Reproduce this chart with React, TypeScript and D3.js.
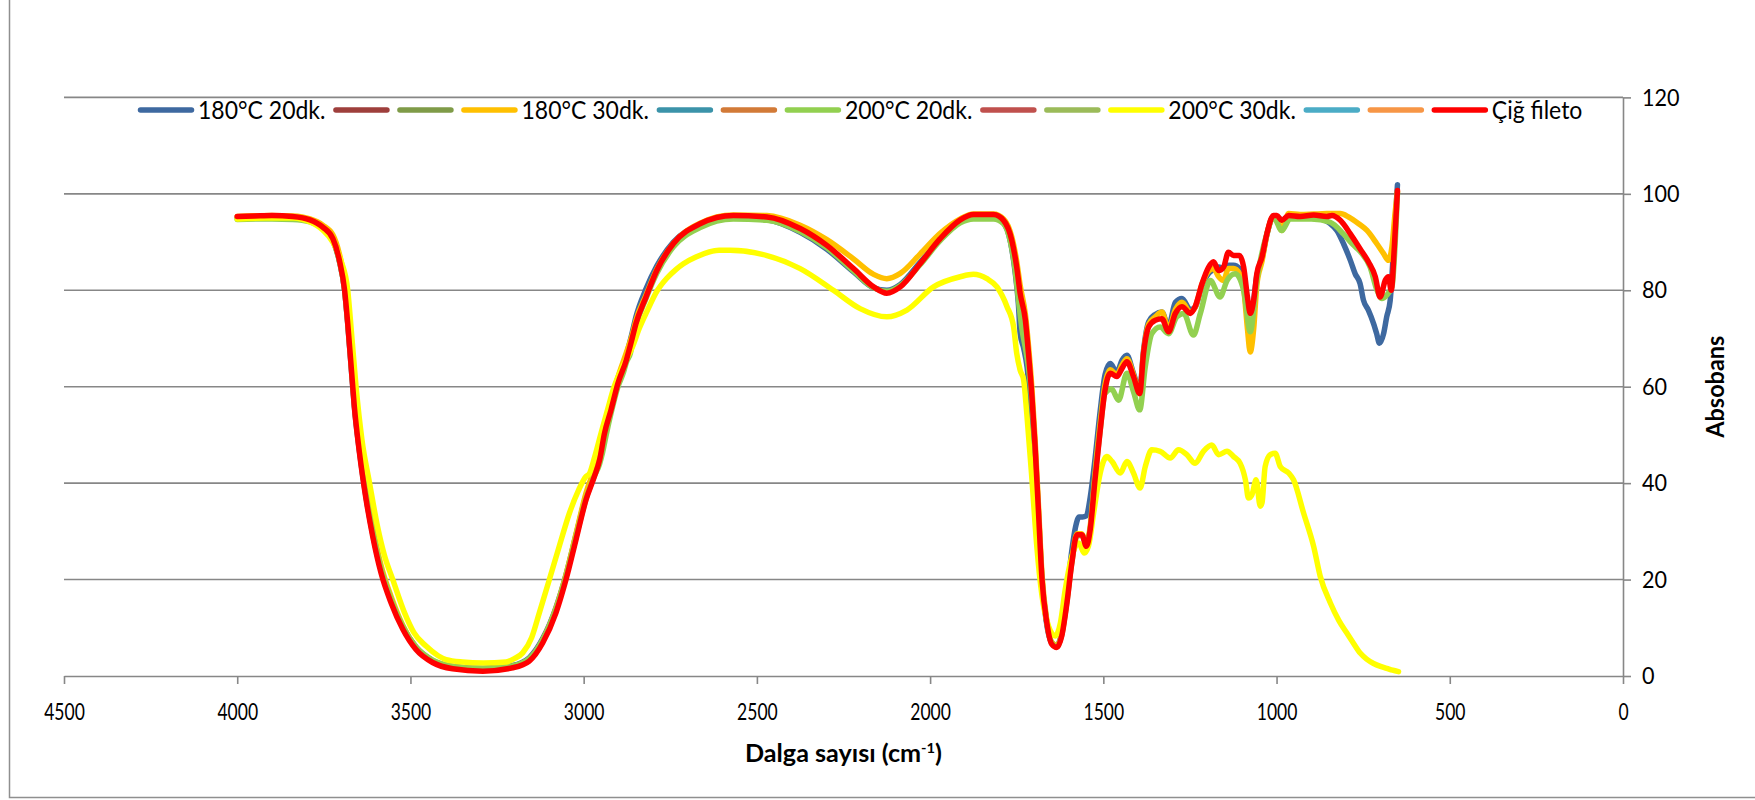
import React, { useEffect, useRef } from "react";
import * as d3 from "d3";

type Pt = [number, number];

// legend entries, in Excel series order (several series have no name)
const seriesNames = ["180°C 20dk.", "", "", "180°C 30dk.", "", "", "200°C 20dk.", "", "", "200°C 30dk.", "", "", "Çiğ fileto"];
const seriesColors = ["#3e69a0", "#9e3f3c", "#7f9b48", "#ffc000", "#3b93a9", "#d27a37", "#92d050", "#c0504d", "#9bbb59", "#ffff00", "#4bacc6", "#f79646", "#ff0000"];

const xTicks = [4500, 4000, 3500, 3000, 2500, 2000, 1500, 1000, 500, 0];
const yTicks = [0, 20, 40, 60, 80, 100, 120];

// [wavenumber, value]
const s180_20: Pt[] = [
  [4000, 95.0], [3900, 95.2], [3840, 95.0], [3790, 94.4], [3753, 93], [3724, 90.5], [3705, 86], [3690, 80], [3681, 73],
  [3671, 64], [3662, 56], [3647, 46.5], [3628, 37], [3609, 29.5], [3585, 22], [3556, 15.8], [3522, 10.2], [3484, 6],
  [3436, 3.2], [3378, 2], [3291, 1.6], [3205, 2.2], [3157, 3.8], [3118, 7.8], [3080, 14.2], [3051, 21], [3022, 29.3],
  [2993, 37.5], [2969, 42.5], [2954, 46], [2940, 51], [2921, 56], [2901, 61.5], [2877, 66.5], [2859, 71.5], [2849, 74.5],
  [2820, 80.3], [2789, 85], [2741, 90], [2664, 93.5], [2568, 95], [2471, 94.6], [2375, 92], [2298, 88.5], [2221, 83.8],
  [2163, 80.5], [2125, 80], [2086, 81.2], [2029, 85.8], [1971, 90.5], [1913, 94.3], [1875, 95.2], [1817, 95.2],
  [1790, 94.2], [1768, 90], [1755, 84], [1745, 77], [1740, 71], [1730, 68], [1720, 64], [1710, 56], [1700, 47],
  [1690, 34], [1679, 21], [1665, 11.5], [1650, 7], [1635, 6.3], [1620, 9], [1605, 17], [1591, 26], [1580, 31],
  [1570, 33], [1560, 33], [1549, 33.2], [1538, 37], [1524, 45], [1509, 55], [1495, 62.5], [1480, 64.8], [1461, 63],
  [1446, 65.5], [1432, 66.5], [1413, 62.8], [1395, 59.3], [1384, 67.5], [1369, 73.5], [1350, 75], [1331, 75.5],
  [1312, 72.5], [1292, 77.5], [1273, 78.3], [1249, 76], [1235, 76.5], [1215, 81], [1196, 83.5], [1182, 84.3],
  [1167, 84.8], [1153, 84.5], [1139, 85.2], [1124, 85.2], [1107, 84.5], [1095, 82], [1084, 77], [1076, 75.5],
  [1066, 78], [1057, 83], [1042, 86.5], [1028, 91.5], [1009, 95.3], [999, 95.3], [985, 94.5], [965, 95.3], [932, 95],
  [893, 95.2], [860, 94.5], [845, 93.8], [826, 92.4], [807, 89.7], [787, 86.2], [773, 83.4], [759, 81.4], [749, 77.9],
  [735, 75.9], [720, 73.1], [711, 71], [703, 69], [691, 71], [682, 74.5], [672, 77.9], [662, 89], [651, 101.9],
];

const s180_30: Pt[] = [
  [4000, 95.3], [3900, 95.5], [3840, 95.4], [3790, 94.8], [3753, 93.5], [3724, 91.5], [3705, 87.5], [3690, 82],
  [3681, 75.5], [3671, 67], [3662, 59], [3647, 49], [3628, 39], [3609, 31], [3585, 23], [3556, 16.5], [3522, 10.5],
  [3484, 6], [3436, 3.2], [3378, 2], [3291, 1.5], [3205, 2], [3157, 3.5], [3118, 7.5], [3080, 14], [3051, 21],
  [3022, 29.5], [2993, 38], [2969, 43], [2954, 47], [2940, 52], [2921, 57], [2901, 62], [2877, 67], [2859, 71],
  [2849, 73.8], [2820, 79], [2789, 84.3], [2741, 89.7], [2664, 93.9], [2568, 95.6], [2471, 95.5], [2375, 93.5],
  [2298, 90.5], [2221, 86.5], [2163, 83.3], [2125, 82.4], [2086, 83.5], [2029, 87.5], [1971, 91.8], [1913, 94.8],
  [1875, 95.8], [1817, 95.8], [1788, 94.8], [1764, 91], [1750, 86], [1740, 81], [1725, 75], [1716, 68.5], [1706, 59.5],
  [1697, 49], [1687, 35], [1677, 21], [1663, 11.5], [1649, 7], [1634, 6.3], [1620, 8.8], [1605, 16], [1591, 24],
  [1576, 29.5], [1562, 29.5], [1549, 27.5], [1538, 31], [1524, 42], [1509, 52.5], [1495, 60.5], [1480, 63.5],
  [1461, 62.5], [1446, 64.5], [1432, 65.8], [1413, 62.5], [1395, 58.5], [1384, 67], [1369, 73], [1350, 74.5],
  [1331, 75.5], [1312, 72], [1292, 76], [1273, 77.5], [1249, 75.5], [1235, 76.5], [1215, 81.3], [1196, 84],
  [1182, 84.5], [1167, 82.8], [1153, 82], [1139, 84.5], [1124, 84.5], [1107, 83.5], [1095, 80.5], [1084, 72],
  [1076, 67.2], [1066, 72], [1057, 81], [1042, 86], [1028, 91.5], [1009, 95.3], [999, 95], [985, 92.4], [965, 95.9],
  [932, 95.7], [893, 95.8], [855, 95.9], [816, 95.9], [792, 95.2], [763, 93.8], [739, 92.4], [711, 89.7], [691, 87.6],
  [677, 86.2], [667, 89], [658, 95.9], [651, 100.5],
];

const s200_20: Pt[] = [
  [4000, 94.7], [3900, 94.8], [3840, 94.7], [3790, 94.2], [3753, 92.8], [3724, 90.3], [3705, 86], [3690, 80],
  [3681, 73.3], [3671, 64.5], [3662, 56.5], [3647, 47], [3628, 37.5], [3609, 30], [3585, 22.3], [3556, 16],
  [3522, 10.3], [3484, 6], [3436, 3.3], [3378, 2], [3291, 1.5], [3205, 2.1], [3157, 3.6], [3118, 7.5], [3080, 13.8],
  [3051, 20.6], [3022, 28.8], [2993, 36.8], [2969, 41.5], [2954, 44], [2945, 46.5], [2935, 50], [2921, 54.5],
  [2901, 60], [2885, 63], [2877, 65], [2865, 67], [2859, 69], [2849, 72.5], [2820, 78.3], [2789, 83.5], [2741, 89],
  [2664, 93], [2568, 94.8], [2471, 94.5], [2375, 92.2], [2298, 88.8], [2221, 84], [2163, 80.5], [2125, 79.8],
  [2086, 81], [2029, 85.3], [1971, 90.3], [1913, 94], [1875, 94.8], [1817, 94.8], [1788, 93.8], [1768, 90],
  [1755, 84.5], [1745, 78], [1735, 72], [1725, 68], [1716, 64], [1706, 57], [1697, 47], [1687, 33.5], [1677, 20],
  [1663, 11], [1649, 6.8], [1634, 6], [1620, 8.5], [1605, 15.5], [1591, 23.5], [1576, 29], [1562, 29.2], [1549, 27.2],
  [1538, 30.5], [1524, 41], [1509, 51], [1495, 58.6], [1476, 59.5], [1456, 57.2], [1432, 62.8], [1413, 59],
  [1395, 55.2], [1379, 64.1], [1360, 71], [1336, 72.4], [1312, 71], [1288, 74.5], [1268, 75.2], [1240, 70.7],
  [1220, 75.2], [1191, 82], [1163, 78.6], [1143, 82], [1119, 83.4], [1095, 80], [1076, 71.4], [1057, 82],
  [1028, 91.7], [1009, 95.2], [985, 92.4], [961, 94.8], [900, 94.8], [845, 94.1], [807, 91.7], [780, 89.5],
  [758, 88], [730, 84.8], [710, 80], [696, 78.3], [682, 79], [667, 80.7], [651, 100.3],
];

const s200_30: Pt[] = [
  [4000, 94.8], [3916, 95], [3839, 95], [3791, 94.2], [3753, 92.5], [3724, 90], [3700, 86], [3681, 80], [3670, 71],
  [3657, 60], [3640, 49], [3618, 40], [3595, 31], [3575, 25], [3551, 20], [3517, 13.1], [3490, 9], [3455, 6.2],
  [3420, 4.2], [3397, 3.4], [3350, 2.9], [3290, 2.7], [3224, 2.9], [3200, 3.6], [3176, 4.8], [3150, 8], [3128, 13.1],
  [3099, 20], [3070, 27], [3041, 33.8], [3015, 38.5], [2993, 41.4], [2984, 41.9], [2970, 45], [2950, 50.3],
  [2930, 55.5], [2912, 60], [2885, 64.5], [2859, 68.3], [2840, 72], [2820, 75.2], [2787, 80], [2760, 82.5],
  [2734, 84.3], [2712, 85.5], [2676, 86.9], [2609, 88.3], [2577, 88.3], [2471, 87.2], [2375, 84.5], [2279, 80],
  [2202, 76.2], [2125, 74.5], [2067, 75.9], [1990, 80.7], [1913, 82.8], [1875, 83.3], [1836, 82.4], [1807, 80.7],
  [1778, 76.6], [1759, 72.4], [1750, 66.9], [1740, 63.4], [1730, 61.4], [1721, 54.5], [1706, 40.7], [1692, 26.9],
  [1677, 16.6], [1658, 10.3], [1639, 8.3], [1624, 11], [1610, 17.9], [1591, 24.8], [1571, 27.6], [1555, 25.5],
  [1543, 26.9], [1528, 33.8], [1509, 42.1], [1490, 45.5], [1475, 44.5], [1451, 42.1], [1432, 44.5], [1413, 42.1],
  [1394, 39], [1379, 43.4], [1360, 46.9], [1336, 46.6], [1307, 45.2], [1283, 46.9], [1259, 45.9], [1235, 44.1],
  [1211, 46.6], [1187, 47.9], [1167, 45.9], [1143, 46.6], [1124, 45.5], [1105, 44.1], [1090, 40.7], [1081, 36.9],
  [1071, 37.6], [1059, 40.7], [1047, 35.2], [1042, 35.9], [1033, 43.4], [1018, 45.9], [1004, 46.2], [989, 43.4],
  [965, 42.1], [951, 40.7], [922, 33.8], [893, 26.9], [874, 20.7], [845, 15.2], [820, 11.5], [797, 8.9], [778, 6.8],
  [758, 4.7], [740, 3.5], [720, 2.6], [700, 2], [682, 1.6], [665, 1.2], [648, 0.9],
];

const cigFileto: Pt[] = [
  [4000, 95.3], [3950, 95.4], [3900, 95.5], [3840, 95.3], [3790, 94.6], [3753, 93.1], [3724, 90.7], [3705, 86.2],
  [3690, 80], [3681, 73.1], [3671, 64.1], [3662, 55.9], [3647, 46.2], [3628, 36.6], [3609, 29], [3585, 21.4],
  [3556, 15.2], [3522, 9.7], [3484, 5.5], [3436, 2.8], [3378, 1.5], [3291, 1.0], [3205, 1.7], [3157, 3.1], [3118, 6.9],
  [3080, 13.1], [3051, 20], [3022, 28.3], [2993, 36.6], [2969, 41.4], [2954, 44.8], [2940, 50.3], [2921, 55.2],
  [2901, 60.7], [2877, 65.5], [2859, 70.3], [2849, 73.1], [2820, 78.6], [2789, 84.1], [2741, 89.7], [2664, 93.8],
  [2568, 95.5], [2471, 95.2], [2375, 92.8], [2298, 89.3], [2221, 84.5], [2163, 80.7], [2125, 79.4], [2086, 80.7],
  [2029, 85.5], [1971, 90.7], [1913, 94.6], [1875, 95.7], [1817, 95.7], [1788, 94.5], [1764, 90.3], [1750, 84.8],
  [1740, 79.3], [1725, 73.8], [1716, 66.9], [1706, 57.9], [1697, 47.6], [1687, 33.8], [1677, 20], [1663, 11],
  [1649, 6.6], [1634, 5.9], [1620, 8.3], [1605, 15.2], [1591, 23.4], [1576, 29.3], [1562, 29.3], [1549, 26.9],
  [1538, 30.3], [1524, 40.7], [1509, 51], [1495, 59.3], [1480, 62.8], [1461, 62.1], [1446, 63.8], [1432, 65.2],
  [1413, 62.1], [1395, 58.6], [1384, 66.9], [1369, 72.4], [1350, 73.8], [1331, 74.1], [1312, 71.4], [1292, 75.2],
  [1273, 76.6], [1249, 75.2], [1235, 76.6], [1215, 81.4], [1196, 84.8], [1182, 85.9], [1167, 84.1], [1153, 84.8],
  [1139, 87.9], [1124, 87.2], [1107, 87.2], [1095, 84.8], [1084, 78.6], [1076, 75.2], [1066, 77.9], [1057, 83.4],
  [1042, 86.9], [1028, 91.7], [1009, 95.5], [999, 95.5], [985, 94.5], [965, 95.5], [932, 95.3], [893, 95.6],
  [855, 95.3], [840, 95.5], [816, 94.5], [787, 91.7], [759, 88.6], [735, 85.9], [715, 82.8], [701, 78.6], [686, 82.1],
  [677, 82.8], [669, 80], [660, 89], [651, 100.7],
];

// the unnamed series carry no visible data
const seriesData: Pt[][] = [s180_20, [], [], s180_30, [], [], s200_20, [], [], s200_30, [], [], cigFileto];

const FONT = "Lato, 'Open Sans', sans-serif";
const GRID = "#878787";

export default function App() {
  const ref = useRef<SVGSVGElement>(null);

  useEffect(() => {
    const svg = d3.select(ref.current);
    svg.selectAll("*").remove();

    const left = 64, right = 1623, top = 97.4, bottom = 676;
    const x = d3.scaleLinear().domain([4500, 0]).range([left, right]);
    const y = d3.scaleLinear().domain([0, 120]).range([bottom, top]);

    // chart area border (only left and bottom edges are in frame)
    svg.append("path")
      .attr("d", "M9.5,0 V797.5 H1755")
      .attr("fill", "none").attr("stroke", "#8f8f8f").attr("stroke-width", 1.5);

    // gridlines
    svg.append("g")
      .selectAll("line")
      .data(yTicks.filter(d => d > 0))
      .join("line")
        .attr("x1", left).attr("x2", right)
        .attr("y1", d => y(d)).attr("y2", d => y(d))
        .attr("stroke", GRID).attr("stroke-width", 1.6);

    // x axis
    const xAxis = svg.append("g")
      .attr("transform", `translate(0,${bottom})`)
      .call(d3.axisBottom(x).tickValues(xTicks).tickSize(8).tickSizeOuter(0).tickPadding(19).tickFormat(d => String(d)));
    xAxis.select(".domain").attr("stroke", GRID).attr("stroke-width", 1.6);
    xAxis.selectAll(".tick line").attr("stroke", GRID).attr("stroke-width", 1.6);
    xAxis.selectAll(".tick text")
      .attr("font-family", FONT).attr("font-size", 24).attr("fill", "#000")
      .attr("transform", "scale(0.73,1)");

    // y axis on the right
    const yAxis = svg.append("g")
      .attr("transform", `translate(${right},0)`)
      .call(d3.axisRight(y).tickValues(yTicks).tickSize(8).tickSizeOuter(0).tickPadding(11));
    yAxis.select(".domain").attr("stroke", GRID).attr("stroke-width", 1.6);
    yAxis.selectAll(".tick line").attr("stroke", GRID).attr("stroke-width", 1.6);
    yAxis.selectAll(".tick text")
      .attr("font-family", FONT).attr("font-size", 24).attr("fill", "#000")
      .attr("transform", "translate(19,0) scale(0.9,1) translate(-19,0)");

    // series
    const line = d3.line<Pt>()
      .x(d => x(d[0]))
      .y(d => y(d[1]))
      .curve(d3.curveMonotoneX);

    svg.append("g")
      .selectAll("path")
      .data(seriesData.map((d, i) => ({ d, c: seriesColors[i] })).filter(s => s.d.length))
      .join("path")
        .attr("d", s => line(s.d))
        .attr("fill", "none")
        .attr("stroke", s => s.c)
        .attr("stroke-width", 5.5)
        .attr("stroke-linejoin", "round")
        .attr("stroke-linecap", "round");

    // legend
    const lg = svg.append("g").attr("font-family", FONT).attr("font-size", 25);
    const ly = 110;
    const sx = 0.92;
    let cx = 138;
    seriesNames.forEach((name, i) => {
      lg.append("line")
        .attr("x1", cx + 2.5).attr("x2", cx + 53.5)
        .attr("y1", ly).attr("y2", ly)
        .attr("stroke", seriesColors[i]).attr("stroke-width", 5.5).attr("stroke-linecap", "round");
      cx += 56;
      if (name) {
        const t = lg.append("text")
          .attr("transform", `translate(${cx + 4},${ly}) scale(${sx},1)`)
          .attr("dy", "0.36em").text(name);
        const w = (t.node() as SVGTextElement).getComputedTextLength() * sx;
        cx += 4 + w + 8;
      } else {
        cx += 8;
      }
    });

    // x axis title (condensed, bold)
    const xt = svg.append("g").attr("transform", `translate(${(left + right) / 2},753)`);
    const xtText = xt.append("text")
      .attr("font-family", FONT).attr("font-size", 24).attr("font-weight", "bold")
      .attr("text-anchor", "middle").attr("dy", "0.36em");
    xtText.append("tspan").text("Dalga sayısı (cm");
    xtText.append("tspan").attr("font-size", 14).attr("dy", "-0.6em").text("-1");
    xtText.append("tspan").attr("dy", "0.36em").text(")");
    const xw = (xtText.node() as SVGTextElement).getBBox().width;
    xtText.attr("transform", `scale(${197 / xw},1)`);

    // y axis title, rotated
    const yt = svg.append("g").attr("transform", `translate(1715,${(top + bottom) / 2}) rotate(-90)`);
    const ytText = yt.append("text")
      .attr("font-family", FONT).attr("font-size", 24).attr("font-weight", "bold")
      .attr("text-anchor", "middle").attr("dy", "0.36em")
      .text("Absobans");
    const yw = (ytText.node() as SVGTextElement).getBBox().width;
    ytText.attr("transform", `scale(${103 / yw},1)`);
  }, []);

  return (
    <svg
      ref={ref}
      width={1755}
      height={800}
      style={{ position: "absolute", left: 0, top: 0, background: "#fff" }}
    />
  );
}
